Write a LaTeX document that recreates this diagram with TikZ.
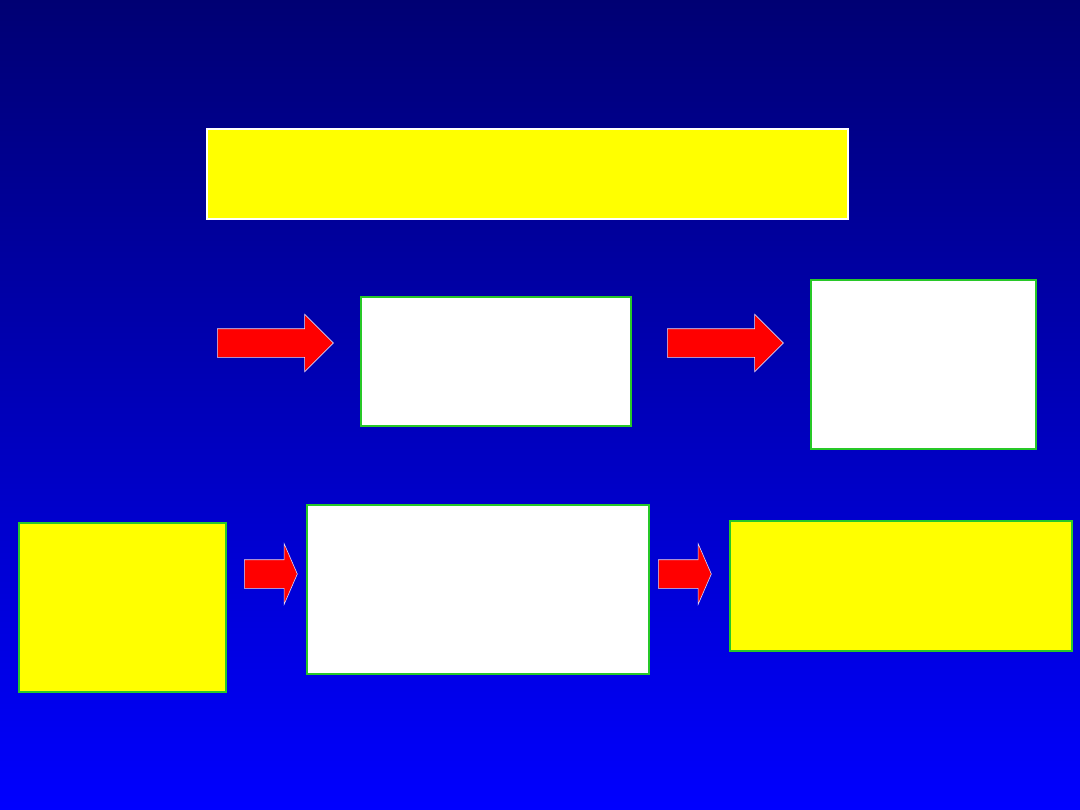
\documentclass[tikz,border=0pt]{standalone}
\usetikzlibrary{shapes.arrows, positioning}
\definecolor{navytop}{RGB}{0,0,115}
\definecolor{bluebot}{RGB}{0,0,255}
\definecolor{boxline}{RGB}{40,200,40}
\definecolor{boxyellow}{RGB}{255,255,0}

\begin{document}
\begin{tikzpicture}[
      x=0.025cm, y=-0.025cm,
      wbox/.style  = {draw=boxline, line width=0.5mm, fill=white, anchor=north west,
                      inner sep=0pt},
      ybox/.style  = {draw=boxline, line width=0.5mm, fill=boxyellow, anchor=north west,
                      inner sep=0pt},
      big/.style   = {single arrow, draw=white!85!blue, line width=0.15mm, fill=red,
                      inner xsep=0pt, inner ysep=3.5mm, minimum height=29mm,
                      single arrow head extend=3.6mm, single arrow tip angle=90,
                      anchor=west},
      small/.style = {single arrow, draw=white!85!blue, line width=0.15mm, fill=red,
                      inner xsep=0pt, inner ysep=3.5mm, minimum height=13.25mm,
                      single arrow head extend=4mm, single arrow tip angle=133,
                      anchor=west}
    ]

    % ---- background ----
    \shade[top color=navytop, bottom color=bluebot] (0,0) rectangle (1080,810);
    \useasboundingbox (0,0) rectangle (1080,810);

    % ---- title bar ----
    \node[ybox, draw=white, minimum width=160.25mm, minimum height=22.5mm] (title) at (206,128) {};

    % ---- middle row ----
    \node[big] (arrA) at (217,343) {};
    \node[wbox, minimum width=67.5mm, minimum height=32.25mm] (boxA) at (360,296) {};
    \node[big] (arrB) at (667,343) {};
    \node[wbox, minimum width=56.25mm, minimum height=42.25mm] (boxB) at (810,279) {};

    % ---- bottom row ----
    \node[ybox, minimum width=51.75mm, minimum height=42.25mm] (start) at (18,522) {};
    \node[small] (arrC) at (244,574) {};
    \node[wbox, minimum width=85.5mm, minimum height=42.25mm] (boxD) at (306,504) {};
    \node[small] (arrD) at (658,574) {};
    \node[ybox, minimum width=85.5mm, minimum height=32.5mm] (result) at (729,520) {};

  \end{tikzpicture}
\end{document}
